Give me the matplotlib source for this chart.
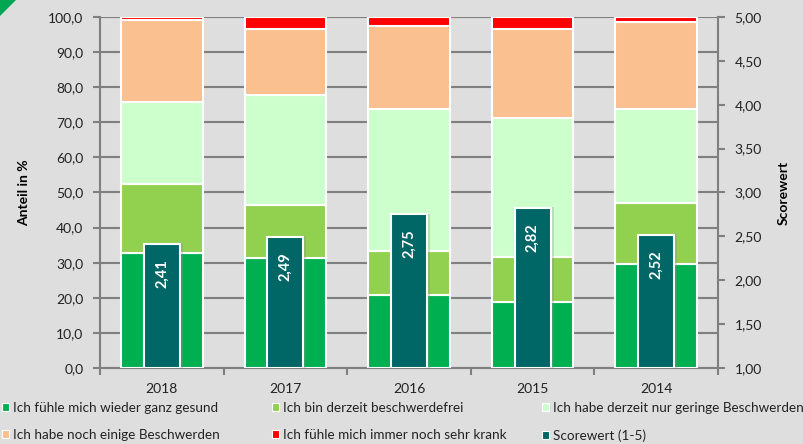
import numpy as np
import matplotlib.pyplot as plt
from matplotlib.patches import Patch, Polygon
from matplotlib.ticker import MultipleLocator, FixedLocator

plt.rcParams['font.family'] = ['Lato', 'DejaVu Sans']

# ── data ────────────────────────────────────────────────
years = ['2018', '2017', '2016', '2015', '2014']

gesund    = [32.8, 31.3, 20.8, 18.9, 29.6]
beschfrei = [19.6, 15.1, 12.6, 12.8, 17.3]
gering    = [23.4, 31.4, 40.5, 39.4, 26.8]
einige    = [23.3, 18.8, 23.5, 25.4, 24.8]
krank     = [0.9, 3.4, 2.6, 3.5, 1.5]

score = [2.41, 2.49, 2.75, 2.82, 2.52]

series_labels = ['Ich fühle mich wieder ganz gesund',
                 'Ich bin derzeit beschwerdefrei',
                 'Ich habe derzeit nur geringe Beschwerden',
                 'Ich habe noch einige Beschwerden',
                 'Ich fühle mich immer noch sehr krank']
score_label = 'Scorewert (1-5)'

colors = ['#00b050', '#92d050', '#ccffcc', '#fac090', '#ff0000']
score_color = '#006666'
bg = '#dedede'
grid_col = '#7f7f7f'

# ── figure ──────────────────────────────────────────────
fig = plt.figure(figsize=(8.04, 4.44), dpi=100, facecolor=bg)
ax = fig.add_axes([100/804, 76/444, 618/804, 351/444])
ax.set_facecolor(bg)

x = np.arange(len(years))
bottom = np.zeros(len(years))
for vals, col in zip([gesund, beschfrei, gering, einige, krank], colors):
    ax.bar(x, vals, width=0.66, bottom=bottom, color=col,
           edgecolor='white', linewidth=1.5, zorder=3)
    bottom += np.array(vals)

ax.set_ylim(0, 100)
ax.set_xlim(-0.5, len(years) - 0.5)
ax.yaxis.set_major_locator(MultipleLocator(10))
ax.set_yticklabels([f'{v:.1f}'.replace('.', ',') for v in ax.get_yticks()])
ax.grid(axis='y', color=grid_col, linewidth=1.5, zorder=0)
ax.set_axisbelow(True)

ax.set_xticks(x)
ax.set_xticklabels(years, fontsize=10, color='#222222')
ax.tick_params(axis='x', which='major', length=0, pad=11)
ax.xaxis.set_minor_locator(FixedLocator(np.arange(-0.5, len(years), 1.0)))
ax.tick_params(axis='x', which='minor', length=5, width=1.5, color=grid_col)
ax.tick_params(axis='y', length=5, width=1.5, color=grid_col, pad=7,
               labelsize=10, labelcolor='#222222')

for s in ['top', 'right']:
    ax.spines[s].set_visible(False)
for s in ['left', 'bottom']:
    ax.spines[s].set_color(grid_col)
    ax.spines[s].set_linewidth(1.5)

ax.set_ylabel('Anteil in %', fontsize=10, fontweight='bold', labelpad=13)

# score on the secondary axis
ax2 = ax.twinx()
ax2.set_ylim(1, 5)
ax2.yaxis.set_major_locator(MultipleLocator(0.5))
ax2.set_yticklabels([f'{v:.2f}'.replace('.', ',') for v in ax2.get_yticks()])
ax2.tick_params(axis='y', length=5, width=1.5, color=grid_col, pad=7,
                labelsize=10, labelcolor='#222222')
for s in ['top', 'left', 'bottom']:
    ax2.spines[s].set_visible(False)
ax2.spines['right'].set_color(grid_col)
ax2.spines['right'].set_linewidth(1.5)

# soft shadow behind the score bars
ax2.bar(x + 0.01, np.array(score) - 0.99, width=0.32, bottom=1, color='#8a8a8a',
        alpha=0.3, linewidth=0, zorder=2)
ax2.bar(x, np.array(score) - 1, width=0.29, bottom=1, color=score_color,
        edgecolor='white', linewidth=1.5, zorder=3)
for xi, v in zip(x, score):
    ax2.annotate(f'{v:.2f}'.replace('.', ','), (xi, v), xytext=(0, -11),
                 textcoords='offset points', rotation=90, ha='center', va='top',
                 color='white', fontsize=10.5, fontweight='bold', zorder=4)
ax2.set_ylabel('Scorewert', fontsize=10, fontweight='bold', labelpad=11)

# legend, three columns of two rows
handles = [Patch(facecolor=c, edgecolor='white', linewidth=0.8) for c in colors]
handles.append(Patch(facecolor=score_color, edgecolor='white', linewidth=0.8))
labels = series_labels + [score_label]
cols = [[0, 3], [1, 4], [2, 5]]
col_x = [2 / 804, 272 / 804, 542 / 804]
for cx, idx in zip(col_x, cols):
    fig.legend([handles[i] for i in idx], [labels[i] for i in idx],
               loc='upper left', bbox_to_anchor=(cx, 42 / 444), frameon=False,
               fontsize=9.7, handlelength=0.5, handleheight=0.5,
               handletextpad=0.35, labelspacing=1.12, borderaxespad=0,
               borderpad=0, labelcolor='#222222')

# small green corner mark
fig.patches.append(Polygon([[0, 1], [16 / 804, 1], [0, 1 - 16 / 444]],
                           closed=True, transform=fig.transFigure,
                           facecolor='#00a651', edgecolor='none'))

fig.savefig('out.png', dpi=100, facecolor=bg)
